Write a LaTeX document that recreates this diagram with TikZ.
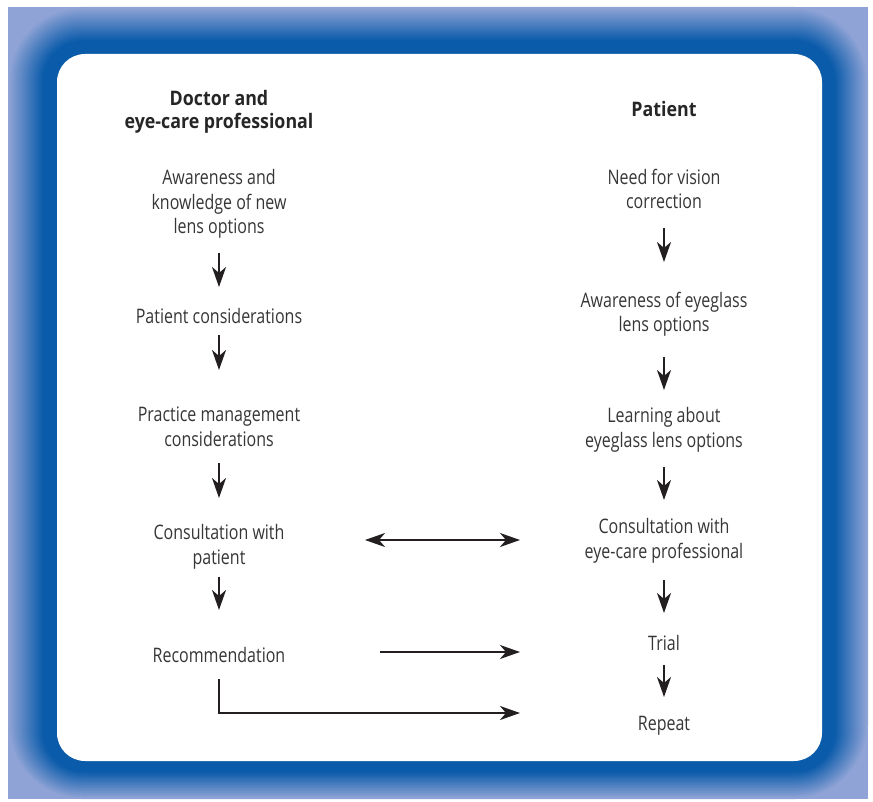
\documentclass[tikz,border=0pt]{standalone}
\usepackage{fontspec}
\setmainfont{Open Sans}[FakeStretch=0.8,BoldFeatures={FakeStretch=0.89}]
\usetikzlibrary{arrows.meta,calc}
\definecolor{bluelight}{HTML}{8FA3D6}
\definecolor{bluedark}{HTML}{0A5BAA}
\definecolor{textgray}{HTML}{363636}
\definecolor{arrowblack}{HTML}{231F20}

\tikzset{
    txt/.style={font=\fontsize{20}{24.5}\selectfont, text=textgray, align=center, inner sep=0pt, anchor=base},
    head/.style={txt, font=\fontsize{20}{23.5}\selectfont\bfseries, text=black!85},
    tip/.tip={Stealth[length=20pt,width=14pt,inset=6pt]},
    arr/.style={-tip, line width=1.8pt, draw=arrowblack},
    arrboth/.style={tip-tip, line width=1.8pt, draw=arrowblack}
}

\begin{document}
\begin{tikzpicture}[x=1pt,y=-1pt]
            \useasboundingbox (0,0) rectangle (873,802);
            % blue frame, shaded from the outside in
            \begin{scope}
                \clip (8,7) rectangle (868,799);
                \fill[bluelight] (8,7) rectangle (868,799);
                \foreach \k in {0,1,...,24} {
                    \pgfmathsetmacro{\t}{\k/24}
                    \pgfmathsetmacro{\mix}{min(100,100*\t/0.7)}
                    \pgfmathsetmacro{\rad}{28+45*(1-\t)}
                    \fill[bluedark!\mix!bluelight, rounded corners=\rad pt]
                        (8+49*\t,7+47*\t) rectangle (868-46*\t,799-38*\t);
                }
            \end{scope}
            \fill[white, rounded corners=28pt] (57,54) rectangle (822,761);

            % doctor side (nodes sit on the baseline of their last line)
            \node[head] (doc) at (219,129) {Doctor and\\eye-care professional};
            \node[txt] (L1) at (219,234) {Awareness and\\knowledge of new\\lens options};
            \node[txt] (L2) at (219,324) {Patient considerations};
            \node[txt] (L3) at (219,446) {Practice management\\considerations};
            \node[txt] (L4) at (219,564) {Consultation with\\patient};
            \node[txt] (L5) at (219,662) {Recommendation};

            % patient side
            \node[head] (pat) at (664,117) {Patient};
            \node[txt] (R1) at (664,209) {Need for vision\\correction};
            \node[txt] (R2) at (664,332) {Awareness of eyeglass\\lens options};
            \node[txt] (R3) at (664,447) {Learning about\\eyeglass lens options};
            \node[txt] (R4) at (664,558) {Consultation with\\eye-care professional};
            \node[txt] (R5) at (664,650) {Trial};
            \node[txt] (R6) at (664,730) {Repeat};

            % steps down each column
            \foreach \a/\b/\s/\e in {L1/L2/19/37, L2/L3/11/76, L3/L4/17/66, L4/L5/13/52,
                                    R1/R2/19/70, R2/R3/25/57, R3/R4/20/58, R4/R5/22/37, R5/R6/15/33} {
                \draw[arr] ([yshift=-\s pt]\a.base) -- ([yshift=\e pt]\b.base);
            }

            % links between the two sides
            \draw[arrboth] ([shift={(146pt,24pt)}]L4.base) -- ([shift={(-144pt,18pt)}]R4.base);
            \draw[arr] ([shift={(161pt,10pt)}]L5.base) -- ([shift={(-144pt,-2pt)}]R5.base);
            \draw[arr] ([yshift=-17pt]L5.base) |- ([shift={(-144pt,17pt)}]R6.base);
\end{tikzpicture}
\end{document}
